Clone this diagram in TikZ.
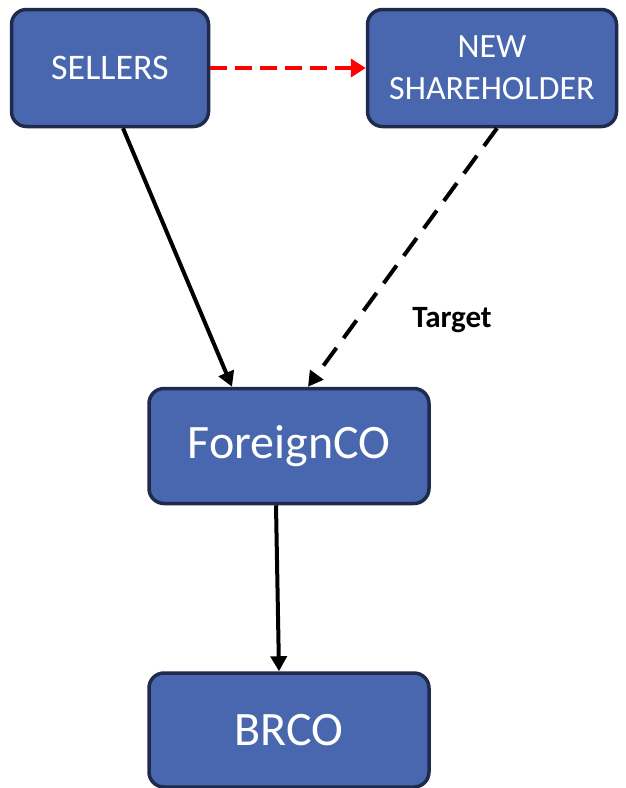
\documentclass[tikz,border=0pt]{standalone}
\usepackage{fontspec}
\setmainfont{Carlito}
\usetikzlibrary{arrows.meta}

\definecolor{boxfill}{HTML}{4967AE}
\definecolor{boxline}{HTML}{1F2A4C}

\begin{document}
\begin{tikzpicture}
[
	x=1pt, y=-1pt,
% Entity box style
	entity/.style={
		draw=boxline,
		fill=boxfill,
		line width=3.5pt,
		rounded corners=15pt,
		text=white,
		align=center,
		inner sep=0pt},
% Line with Arrow style
	owns/.style={
		line width=4pt,
		-{Triangle[length=15pt,width=16pt]}},
% Label style
	note/.style={
		font=\fontsize{31}{36}\selectfont\bfseries},
]

\useasboundingbox (0,0) rectangle (626,788);

% Shareholders
\node[entity,
	minimum width=197pt, minimum height=117pt,
	font=\fontsize{36}{42}\selectfont] (sellers) at (110,68) {SELLERS};

\node[entity,
	minimum width=249pt, minimum height=117pt,
	font=\fontsize{34}{42}\selectfont] (newsh) at (492,68) {NEW\\SHAREHOLDER};

% Companies
\node[entity,
	minimum width=280pt, minimum height=115pt,
	font=\fontsize{48}{56}\selectfont] (foreign) at (289,446) {ForeignCO};

\node[entity,
	minimum width=280pt, minimum height=114pt,
	font=\fontsize{48}{56}\selectfont] (brco) at (289,730) {BRCO};

% Connectors
\draw [owns, red, dash pattern=on 17pt off 8pt,
	-{Triangle[length=15pt,width=18pt]}]
	(sellers.east) -- (newsh.west);

\draw [owns] ([xshift=13pt]sellers.south) -- ([xshift=-57pt]foreign.north);

\draw [owns, dash pattern=on 22pt off 12pt]
	([xshift=5pt]newsh.south) -- ([xshift=19pt]foreign.north);

\draw [owns] ([xshift=-13pt]foreign.south) -- ([xshift=-10pt]brco.north);

\node[note] (target) at (452,320) {Target};

\end{tikzpicture}
\end{document}
